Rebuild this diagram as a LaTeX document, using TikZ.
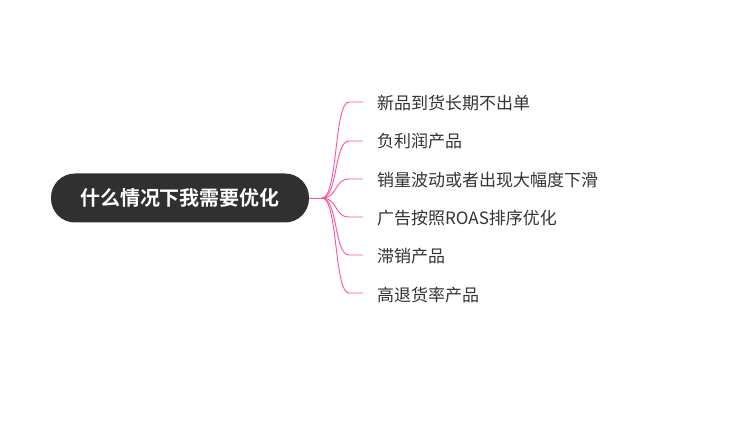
\documentclass[tikz,border=0pt]{standalone}
\usepackage{fontspec}
\newfontfamily\cjk{Noto Sans CJK SC}
\newfontfamily\cjkb{Noto Sans CJK SC Bold}
\definecolor{pinkline}{RGB}{255,80,160}
\definecolor{rootfill}{RGB}{48,48,48}
\definecolor{leaftext}{RGB}{51,51,51}
\begin{document}
\begin{tikzpicture}[x=1pt,y=-1pt,
  rootbox/.style={draw=none,fill=rootfill,rounded corners=24pt,minimum width=258pt,minimum height=49pt,inner sep=0pt,text=white,font=\cjkb\fontsize{20}{22}\selectfont},
  leaf/.style={anchor=west,inner sep=0pt,text=leaftext,font=\cjk\fontsize{17}{19}\selectfont},
  conn/.style={draw=pinkline,line width=0.9pt}]
\useasboundingbox (0,0) rectangle (740,425);
\node[rootbox] (root) at (180,198) {什么情况下我需要优化};
\coordinate (j) at (322,198);
\node[leaf] (l1) at (377,103) {新品到货长期不出单};
\node[leaf] (l2) at (377,141) {负利润产品};
\node[leaf] (l3) at (377,180) {销量波动或者出现大幅度下滑};
\node[leaf] (l4) at (377,218) {广告按照ROAS排序优化};
\node[leaf] (l5) at (377,256) {滞销产品};
\node[leaf] (l6) at (377,295) {高退货率产品};
\coordinate (e1) at (363,102);
\coordinate (e2) at (363,141);
\coordinate (e3) at (363,179);
\coordinate (e4) at (363,217);
\coordinate (e5) at (363,255);
\coordinate (e6) at (363,293);
\draw[conn] (root.east) -- (j);
\foreach \i in {1,...,6}{
  \draw[conn] (j) .. controls (338,198) and (334,0|-e\i) .. ([xshift=-14pt]e\i) -- (e\i);
}
\end{tikzpicture}
\end{document}
